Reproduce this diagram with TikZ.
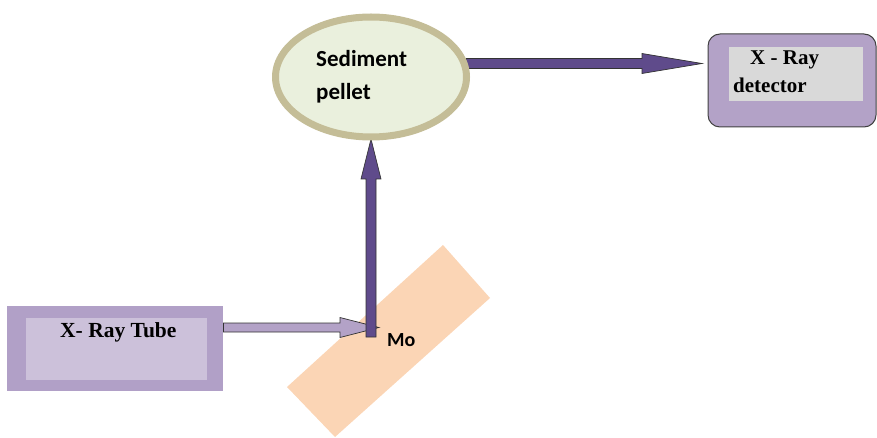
\documentclass[tikz,border=0pt]{standalone}
\usepackage{fontspec}
\setmainfont{Liberation Serif}
\newfontfamily\calib{Carlito}
\usetikzlibrary{calc,shapes.geometric}
\definecolor{pelfill}{HTML}{EAF0DD}
\definecolor{pelborder}{HTML}{C4BD97}
\definecolor{darkpur}{HTML}{5F4B8B}
\definecolor{lightpur}{HTML}{B3A2C7}
\definecolor{tubeout}{HTML}{B1A0C7}
\definecolor{tubein}{HTML}{CCC1DA}
\definecolor{detin}{HTML}{D9D9D9}
\definecolor{moor}{HTML}{FBD5B5}
\newcommand\blockarr[6]{%
  \coordinate (ba-b) at ($(#3)!#6!(#2)$);
  \draw[#1] ($(#2)!#4!90:(#3)$) -- ($(ba-b)!#4!90:(#3)$) -- ($(ba-b)!#5!90:(#3)$) -- (#3)
    -- ($(ba-b)!#5!-90:(#3)$) -- ($(ba-b)!#4!-90:(#3)$) -- ($(#2)!#4!-90:(#3)$) -- cycle;}
\tikzset{
  serifbold/.style={font=\bfseries\fontsize{21.5}{25}\selectfont, inner sep=0pt, anchor=base west},
  sansbold/.style={font=\calib\bfseries\fontsize{23}{28}\selectfont, inner sep=0pt, anchor=base west},
  darkarrow/.style={fill=darkpur, draw=black!80, line width=0.7pt, line join=miter},
  lightarrow/.style={fill=lightpur, draw=black!80, line width=0.7pt, line join=miter},
}
\begin{document}
\begin{tikzpicture}[x=1pt,y=-1pt]
\useasboundingbox (0,0) rectangle (877,438);
% Mo target
\fill[moor] (443,245) -- (490,298) -- (335,437) -- (287,387) -- cycle;
\node[sansbold, font=\calib\bfseries\fontsize{20}{24}\selectfont] (mo) at (387,346) {Mo};
% X-ray tube
\node[fill=tubeout, minimum width=216pt, minimum height=85pt, inner sep=0pt, anchor=north west] (tube) at (7,306) {};
\node[fill=tubein, minimum width=181pt, minimum height=62pt, inner sep=0pt, anchor=north west] (tubein) at (26,318) {};
\node[serifbold] (tubetxt) at (60,337) {X- Ray Tube};
% detector
\node[fill=lightpur, draw=black!75, line width=1pt, rounded corners=12pt, minimum width=168pt, minimum height=93pt, inner sep=0pt, anchor=north west] (det) at (707.5,33.5) {};
\node[fill=detin, minimum width=134pt, minimum height=54pt, inner sep=0pt, anchor=north west] (detin) at (729,47) {};
\node[serifbold, font=\bfseries\fontsize{21}{24}\selectfont] (dt1) at (750,65) {X - Ray};
\node[serifbold, font=\bfseries\fontsize{21}{24}\selectfont] (dt2) at (733,93) {detector};
% arrows
\coordinate (a1s) at (tube.east |- 0,327.5);
\coordinate (a1e) at (379,327.5);
\blockarr{lightarrow}{a1s}{a1e}{4.5pt}{10pt}{39pt}
\coordinate (a3s) at (371,337);
\coordinate (a3e) at (371,139);
\blockarr{darkarrow}{a3s}{a3e}{5pt}{10pt}{40pt}
\coordinate (a2s) at (466,63.5);
\coordinate (a2e) at (702,63.5);
\blockarr{darkarrow}{a2s}{a2e}{5pt}{10pt}{60pt}
% pellet
\node[ellipse, draw=pelborder, line width=7pt, fill=pelfill, minimum width=191pt, minimum height=120pt, inner sep=0pt] (pellet) at (371,77) {};
\node[sansbold] (p1) at (316,67) {Sediment};
\node[sansbold] (p2) at (316,100) {pellet};
\end{tikzpicture}
\end{document}
